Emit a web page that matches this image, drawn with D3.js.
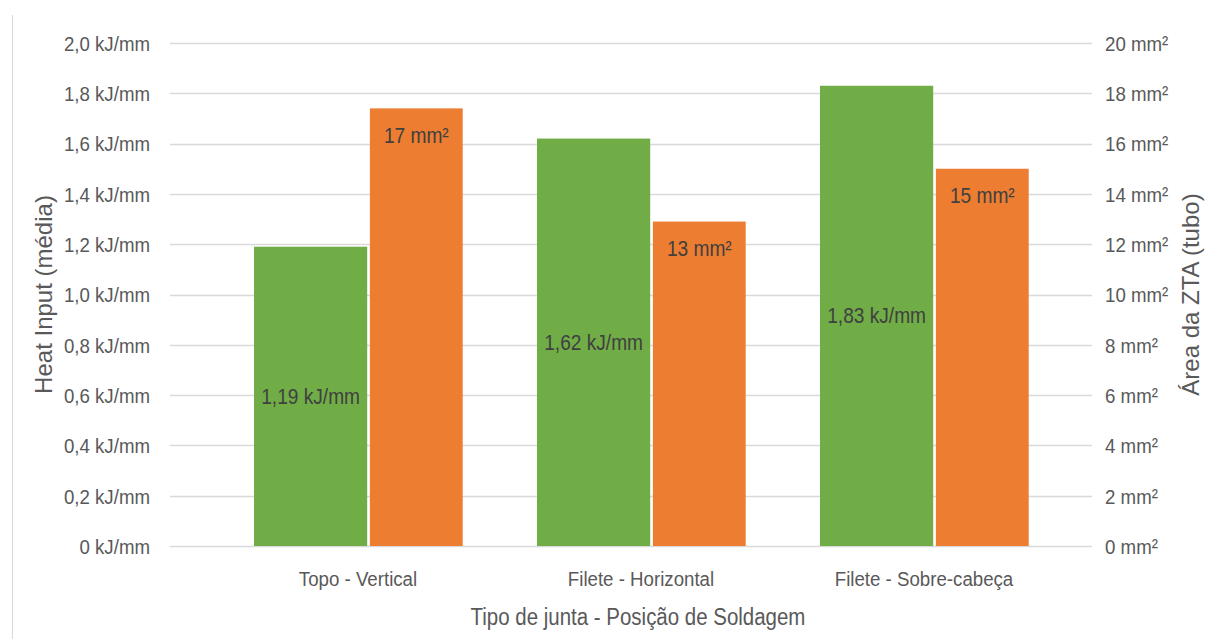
<!DOCTYPE html>
<html>
<head>
<meta charset="utf-8">
<script src="https://cdn.jsdelivr.net/npm/d3@7"></script>
<style>
  html, body { margin: 0; padding: 0; background: #fff; }
  svg { display: block; }
  text { font-family: "Liberation Sans", Arial, sans-serif; }
</style>
</head>
<body>
<svg id="chart" width="1207" height="639"></svg>
<script>
// Junction type / welding position
const categories = ["Topo - Vertical", "Filete - Horizontal", "Filete - Sobre-cabeça"];
// Average heat input (kJ/mm) – left axis
const heatInput = [1.19, 1.62, 1.83];
// HAZ area of the tube (mm²) – right axis
const ztaArea = [17.4, 12.9, 15.0];
const leftTicks = [0, 0.2, 0.4, 0.6, 0.8, 1.0, 1.2, 1.4, 1.6, 1.8, 2.0];
const rightTicks = [0, 2, 4, 6, 8, 10, 12, 14, 16, 18, 20];

const svg = d3.select("#chart");
const W = 1207, H = 639;
const plot = { left: 170, right: 1092, top: 43, bottom: 546 };
const SX = 0.89; // horizontal condensing of the lettering

const ptBR = d3.formatLocale({ decimal: ",", thousands: ".", grouping: [3], currency: ["R$", ""] });
const fmt1 = ptBR.format(".1f");
const fmt2 = ptBR.format(".2f");
const fmt0 = ptBR.format(".0f");

const yL = d3.scaleLinear().domain([0, 2.0]).range([plot.bottom, plot.top]);
const yR = d3.scaleLinear().domain([0, 20]).range([plot.bottom, plot.top]);
const x = d3.scaleBand().domain(categories).range([216.5, 1065.5]).paddingInner(0).paddingOuter(0);

// frame edge
svg.append("line").attr("x1", 12.5).attr("x2", 12.5).attr("y1", 15).attr("y2", H)
  .attr("stroke", "#d9d9d9").attr("stroke-width", 1);

// gridlines
svg.append("g").selectAll("line").data(leftTicks).join("line")
  .attr("x1", plot.left).attr("x2", plot.right)
  .attr("y1", d => Math.round(yL(d)) + 0.5).attr("y2", d => Math.round(yL(d)) + 0.5)
  .attr("stroke", "#d9d9d9").attr("stroke-width", 1.3);

// left axis labels
const axL = d3.axisLeft(yL).tickValues(leftTicks).tickSize(0).tickPadding(0)
  .tickFormat(d => (d === 0 ? "0" : fmt1(d)) + " kJ/mm");
const gL = svg.append("g").attr("transform", `translate(150,0)`).call(axL);
gL.select(".domain").remove();
gL.selectAll("text").attr("fill", "#595959").attr("font-size", 21).attr("dy", "0.35em")
  .attr("transform", `scale(${SX},1)`);

// right axis labels
const axR = d3.axisRight(yR).tickValues(rightTicks).tickSize(0).tickPadding(0)
  .tickFormat(d => d + " mm²");
const gR = svg.append("g").attr("transform", `translate(1105,0)`).call(axR);
gR.select(".domain").remove();
gR.selectAll("text").attr("fill", "#595959").attr("font-size", 21).attr("dy", "0.35em")
  .attr("transform", `scale(${SX},1)`);

const bw = x.bandwidth();
const greenOff = 0.1325 * bw, greenW = 0.40 * bw;
const orangeOff = 0.542 * bw, orangeW = 0.328 * bw;

// heat input bars
svg.append("g").selectAll("rect").data(heatInput).join("rect")
  .attr("x", (d, i) => x(categories[i]) + greenOff)
  .attr("width", greenW)
  .attr("y", d => yL(d))
  .attr("height", d => yL(0) - yL(d))
  .attr("fill", "#70AD47");

// HAZ area bars
svg.append("g").selectAll("rect").data(ztaArea).join("rect")
  .attr("x", (d, i) => x(categories[i]) + orangeOff)
  .attr("width", orangeW)
  .attr("y", d => yR(d))
  .attr("height", d => yR(0) - yR(d))
  .attr("fill", "#ED7D31");

// value labels
svg.append("g").selectAll("text").data(heatInput).join("text")
  .attr("transform", (d, i) =>
    `translate(${x(categories[i]) + greenOff + greenW / 2},${(yL(d) + yL(0)) / 2}) scale(${SX},1)`)
  .attr("dy", "0.35em")
  .attr("text-anchor", "middle")
  .attr("font-size", 21.5).attr("fill", "#404040")
  .text(d => fmt2(d) + " kJ/mm");

svg.append("g").selectAll("text").data(ztaArea).join("text")
  .attr("transform", (d, i) =>
    `translate(${x(categories[i]) + orangeOff + orangeW / 2},${yR(d) + 27}) scale(${SX},1)`)
  .attr("dy", "0.35em")
  .attr("text-anchor", "middle")
  .attr("font-size", 21.5).attr("fill", "#404040")
  .text(d => fmt0(d) + " mm²");

// category labels
svg.append("g").selectAll("text").data(categories).join("text")
  .attr("transform", d => `translate(${x(d) + bw / 2},579) scale(${SX},1)`)
  .attr("dy", "0.35em")
  .attr("text-anchor", "middle")
  .attr("font-size", 21).attr("fill", "#595959")
  .text(d => d);

// axis titles
svg.append("text")
  .attr("transform", `translate(44,${(plot.top + plot.bottom) / 2}) rotate(-90)`)
  .attr("text-anchor", "middle").attr("dy", "0.35em")
  .attr("font-size", 24).attr("fill", "#595959")
  .text("Heat Input (média)");

svg.append("text")
  .attr("transform", `translate(1191,${(plot.top + plot.bottom) / 2}) rotate(-90)`)
  .attr("text-anchor", "middle").attr("dy", "0.35em")
  .attr("font-size", 24).attr("fill", "#595959")
  .text("Área da ZTA (tubo)");

svg.append("text")
  .attr("transform", `translate(638,617) scale(${SX},1)`)
  .attr("dy", "0.35em")
  .attr("text-anchor", "middle")
  .attr("font-size", 23).attr("fill", "#595959")
  .text("Tipo de junta - Posição de Soldagem");
</script>
</body>
</html>
